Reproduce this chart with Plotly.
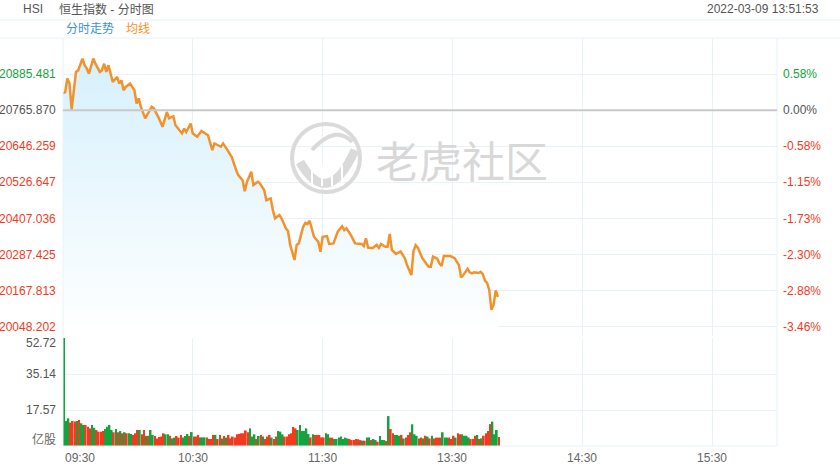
import plotly.graph_objects as go

# ---------------- data ----------------
prev_close = 20765.870
price_step = 119.611
pct_labels = ["0.58%", "0.00%", "-0.58%", "-1.15%", "-1.73%", "-2.30%", "-2.88%", "-3.46%"]
price_labels = ["20885.481", "20765.870", "20646.259", "20526.647", "20407.036", "20287.425", "20167.813", "20048.202"]

price_minutes = [0,1,2,3,4,5,6,7,9,10,11,12,14,15,17,18,19,20,21,23,25,26,27,28,29,31,33,34,35,36,
                 38,41,42,44,46,48,49,51,52,55,56,57,59,60,62,64,67,69,70,73,74,76,78,80,81,83,84,85,87,88,
                 90,91,93,94,96,97,98,100,101,103,104,105,106,107,108,109,111,112,113,114,116,118,119,120,122,123,125,127,129,130,
                 131,133,135,138,139,140,141,143,145,146,147,149,150,151,152,154,156,158,159,161,162,163,164,166,168,169,170,171,173,174,
                 175,176,179,181,183,184,185,187,188,189,190,192,193,194,195,196,197,198,199,200,201]
prices = [20823,20826,20871,20855,20768,20832,20893,20898,20937,20915,20904,20887,20937,20920,20893,20898,20920,20893,20915,20860,
          20876,20854,20865,20832,20843,20854,20832,20788,20805,20777,20739,20777,20772,20744,20711,20760,20739,20746,20716,20689,
          20705,20694,20722,20689,20678,20697,20683,20634,20656,20645,20656,20634,20611,20568,20551,20534,20498,20528,20562,20518,
          20529,20524,20501,20468,20474,20435,20408,20419,20408,20375,20366,20320,20297,20270,20320,20325,20380,20393,20389,20400,
          20347,20330,20297,20347,20349,20323,20325,20364,20382,20369,20375,20353,20325,20323,20316,20342,20311,20309,20320,20310,
          20323,20314,20314,20356,20303,20290,20298,20276,20253,20220,20300,20319,20311,20277,20257,20248,20248,20281,20274,20258,
          20250,20283,20283,20276,20253,20212,20220,20241,20229,20226,20229,20227,20231,20224,20202,20194,20171,20105,20121,20169,
          20148]

volumes = [52.7,12.2,13.5,11.4,12.2,11.9,12.2,12.7,11.1,10.3,10.3,9.4,8.6,10.3,8.9,7.8,7.0,7.0,7.3,8.3,
           9.4,10.3,7.8,6.7,8.3,6.7,7.3,6.2,6.7,6.2,6.2,5.9,5.4,6.2,7.8,7.8,5.7,7.8,4.9,5.0,
           7.8,5.4,4.9,3.7,4.4,4.6,6.2,5.7,5.7,5.0,3.7,4.1,4.9,4.1,5.4,4.2,4.9,5.9,4.9,6.8,
           4.6,4.6,5.4,4.2,4.2,4.2,4.2,3.4,3.4,5.4,5.4,3.4,5.4,3.7,4.9,4.1,5.4,3.7,4.6,4.2,
           5.7,5.9,6.2,6.2,7.6,6.7,8.6,4.6,5.7,3.4,4.9,5.4,4.6,3.4,4.6,5.4,4.1,3.4,4.6,7.3,
           7.0,5.7,4.6,4.6,5.7,6.2,9.3,8.6,7.8,10.3,7.3,7.3,8.6,5.9,4.2,5.7,5.4,5.4,5.4,4.2,
           4.2,6.2,5.7,4.1,4.1,3.4,3.4,4.1,4.6,3.4,4.1,3.7,3.4,2.9,2.9,3.4,3.3,2.9,2.6,2.6,
           4.1,4.2,2.9,3.4,2.9,2.1,4.9,2.9,2.9,2.4,
           14.6,8.3,6.2,5.4,5.4,5.0,5.4,3.7,4.2,5.4,6.7,10.6,5.7,5.0,3.7,4.1,3.7,5.0,4.6,3.7,
           5.0,3.7,4.1,4.1,4.1,6.7,4.1,4.1,4.1,3.4,5.0,4.1,6.2,5.7,5.7,5.0,5.0,4.2,3.4,3.4,
           5.0,5.4,3.4,3.7,5.0,6.2,7.3,10.7,11.9,5.7,7.8,4.4]
# 1 = up (red), 0 = down (green)
vol_up = [0,0,0,1,1,1,0,1,0,0,1,1,1,0,0,1,1,1,1,0,
          0,0,0,1,0,1,0,1,0,1,0,0,1,1,1,0,1,1,0,1,
          0,0,1,1,1,1,1,0,0,1,0,0,1,1,1,0,0,0,1,0,
          1,1,1,0,0,0,1,1,1,1,0,1,1,0,1,0,1,1,1,1,
          1,1,1,1,1,1,0,0,0,1,0,1,0,1,1,1,0,1,1,0,
          0,0,1,1,1,1,1,1,0,0,0,0,0,0,1,0,1,1,1,1,
          1,0,0,1,1,0,0,0,0,0,0,0,1,1,1,1,1,1,0,1,
          0,0,1,0,0,1,0,0,0,1,
          0,1,1,0,0,0,1,0,1,1,1,0,0,0,1,1,0,1,0,1,
          0,1,1,1,1,0,0,0,1,1,1,0,1,1,0,0,0,0,1,1,
          1,0,1,0,1,1,1,1,0,0,0,1]
vol_ticks = [17.57, 35.14, 52.72]
vol_labels = ["17.57", "35.14", "52.72"]
time_ticks = [0, 60, 120, 180, 240, 300]
time_labels = ["09:30", "10:30", "11:30", "13:30", "14:30", "15:30"]
session_minutes = 330

# ---------------- styling ----------------
GREEN = "#14a33c"
RED = "#f23a1e"
GRAY = "#555555"
GRID = "#e8f3f8"
FONT = "Arial, 'Liberation Sans', 'Noto Sans CJK SC', sans-serif"

W, H = 840, 470
ML, MR, MT, MB = 63, 63, 38, 24
PW, PH = W - ML - MR, H - MT - MB

def px(xp):
    return (xp - ML) / PW

def py(yp):
    return (H - MB - yp) / PH

p_top = prev_close + 2 * price_step
p_bot = prev_close - 6.25 * price_step
grid_vals = [prev_close + k * price_step for k in range(1, -7, -1)]

fig = go.Figure()

# baseline for fill
fig.add_trace(go.Scatter(x=[price_minutes[0], price_minutes[-1]], y=[p_bot, p_bot],
                         mode="lines", line=dict(width=0), showlegend=False,
                         hoverinfo="skip", xaxis="x", yaxis="y"))
fig.add_trace(go.Scatter(x=price_minutes, y=prices, mode="lines",
                         line=dict(color="#f3922a", width=2.5),
                         fill="tonexty",
                         fillgradient=dict(type="vertical",
                                           colorscale=[[0, "rgba(255,255,255,1)"], [1, "rgba(214,240,252,1)"]],
                                           start=p_bot, stop=max(prices)),
                         showlegend=False, xaxis="x", yaxis="y"))

vol_colors = [RED if u else GREEN for u in vol_up]
fig.add_trace(go.Bar(x=list(range(len(volumes))), y=volumes, marker=dict(color=vol_colors, line=dict(width=0)),
                     showlegend=False, xaxis="x2", yaxis="y2"))

ann = []
# price labels
for v, lab, pc in zip(grid_vals, price_labels, pct_labels):
    if abs(v - prev_close) < 1e-6:
        c = GRAY
    elif v > prev_close:
        c = GREEN
    else:
        c = RED
    ann.append(dict(x=0, xref="paper", y=v, yref="y", text=lab, showarrow=False,
                    xanchor="right", yanchor="middle", xshift=-5, font=dict(color=c, size=12)))
    ann.append(dict(x=1, xref="paper", y=v, yref="y", text=pc, showarrow=False,
                    xanchor="left", yanchor="middle", xshift=4, font=dict(color=c, size=12)))
# volume labels
for v, lab in zip(vol_ticks, vol_labels):
    ann.append(dict(x=0, xref="paper", y=v, yref="y2", text=lab, showarrow=False,
                    xanchor="right", yanchor="middle", xshift=-5, yshift=-5 if v == vol_ticks[-1] else 0,
                    font=dict(color=GRAY, size=12)))
ann.append(dict(x=0, xref="paper", y=0, yref="y2", text="亿股", showarrow=False,
                xanchor="right", yanchor="middle", xshift=-5, yshift=7, font=dict(color="#666", size=12)))
# time labels
for t, lab in zip(time_ticks, time_labels):
    ann.append(dict(x=t, xref="x", y=py(458), yref="paper", text=lab, showarrow=False,
                    xanchor="left" if t == 0 else "center", yanchor="middle", font=dict(color="#666", size=12)))
# header
def head(xp, yp, text, color, anchor="left"):
    ann.append(dict(x=px(xp), xref="paper", y=py(yp), yref="paper", text=text, showarrow=False,
                    xanchor=anchor, yanchor="middle", font=dict(color=color, size=12)))
head(21, 9, "HSI", GRAY)
head(57, 9, "恒生指数 - 分时图", GRAY)
head(821, 9, "2022-03-09 13:51:53", GRAY, "right")
head(64, 29, "分时走势", "#3d8fe0")
head(124, 29, "均线", "#f7931e")
# watermark text
ann.append(dict(x=px(374), xref="paper", y=py(159), yref="paper", text="老虎社区", showarrow=False,
                xanchor="left", yanchor="middle",
                font=dict(color="#d8d8d8", size=43, family="'Noto Sans CJK SC', sans-serif")))

shapes = []
# header box lines
for yp in (20, 38):
    shapes.append(dict(type="line", xref="paper", yref="paper", x0=px(0), x1=px(840), y0=py(yp), y1=py(yp),
                       line=dict(color=GRID, width=1)))
# plot borders
shapes.append(dict(type="line", xref="paper", yref="paper", x0=0, x1=0, y0=0, y1=1, line=dict(color=GRID, width=1)))
shapes.append(dict(type="line", xref="paper", yref="paper", x0=1, x1=1, y0=0, y1=1, line=dict(color=GRID, width=1)))
shapes.append(dict(type="line", xref="paper", yref="paper", x0=0, x1=1, y0=0, y1=0, line=dict(color=GRID, width=1)))
# previous close line
shapes.append(dict(type="line", xref="paper", yref="y", x0=0, x1=1, y0=prev_close, y1=prev_close,
                   line=dict(color="#c8c8c8", width=2)))
# watermark logo
cx, cy, r = 326, 158, 34
shapes.append(dict(type="circle", xref="paper", yref="paper", x0=px(cx - r), x1=px(cx + r),
                   y0=py(cy + r), y1=py(cy - r), line=dict(color="#dadada", width=4)))
shapes.append(dict(type="path", xref="paper", yref="paper",
                   path=f"M {px(300):.4f},{py(162):.4f} Q {px(328):.4f},{py(210):.4f} {px(355):.4f},{py(150):.4f}",
                   line=dict(color="#dadada", width=9)))
shapes.append(dict(type="path", xref="paper", yref="paper",
                   path=f"M {px(312):.4f},{py(150):.4f} Q {px(336):.4f},{py(124):.4f} {px(352):.4f},{py(142):.4f}",
                   line=dict(color="#dadada", width=4)))
for xx in (312, 322, 332, 342):
    shapes.append(dict(type="line", xref="paper", yref="paper", x0=px(xx), x1=px(xx),
                       y0=py(186), y1=py(165), line=dict(color="white", width=2)))

fig.update_layout(
    width=W, height=H, margin=dict(l=ML, r=MR, t=MT, b=MB),
    paper_bgcolor="white", plot_bgcolor="white",
    font=dict(family=FONT, size=12, color=GRAY),
    bargap=0.2,
    xaxis=dict(domain=[0, 1], range=[0, session_minutes], tickvals=time_ticks[1:], showticklabels=False,
               showgrid=True, gridcolor=GRID, zeroline=False, showline=False, anchor="y"),
    yaxis=dict(domain=[py(336), 1], range=[p_bot, p_top], tickvals=grid_vals, showticklabels=False,
               showgrid=True, gridcolor=GRID, zeroline=False, showline=False),
    xaxis2=dict(domain=[0, 1], range=[-0.5, session_minutes - 0.5], tickvals=[t - 0.5 for t in time_ticks[1:]],
                showticklabels=False, showgrid=True, gridcolor=GRID, zeroline=False, showline=False, anchor="y2"),
    yaxis2=dict(domain=[0, py(338)], range=[0, vol_ticks[-1]], tickvals=vol_ticks, showticklabels=False,
                showgrid=True, gridcolor=GRID, zeroline=False, showline=False),
    annotations=ann, shapes=shapes,
)

fig.write_html("out.html", config={"displayModeBar": False},
               post_script="document.body.style.margin='0';document.body.style.overflow='hidden';")
